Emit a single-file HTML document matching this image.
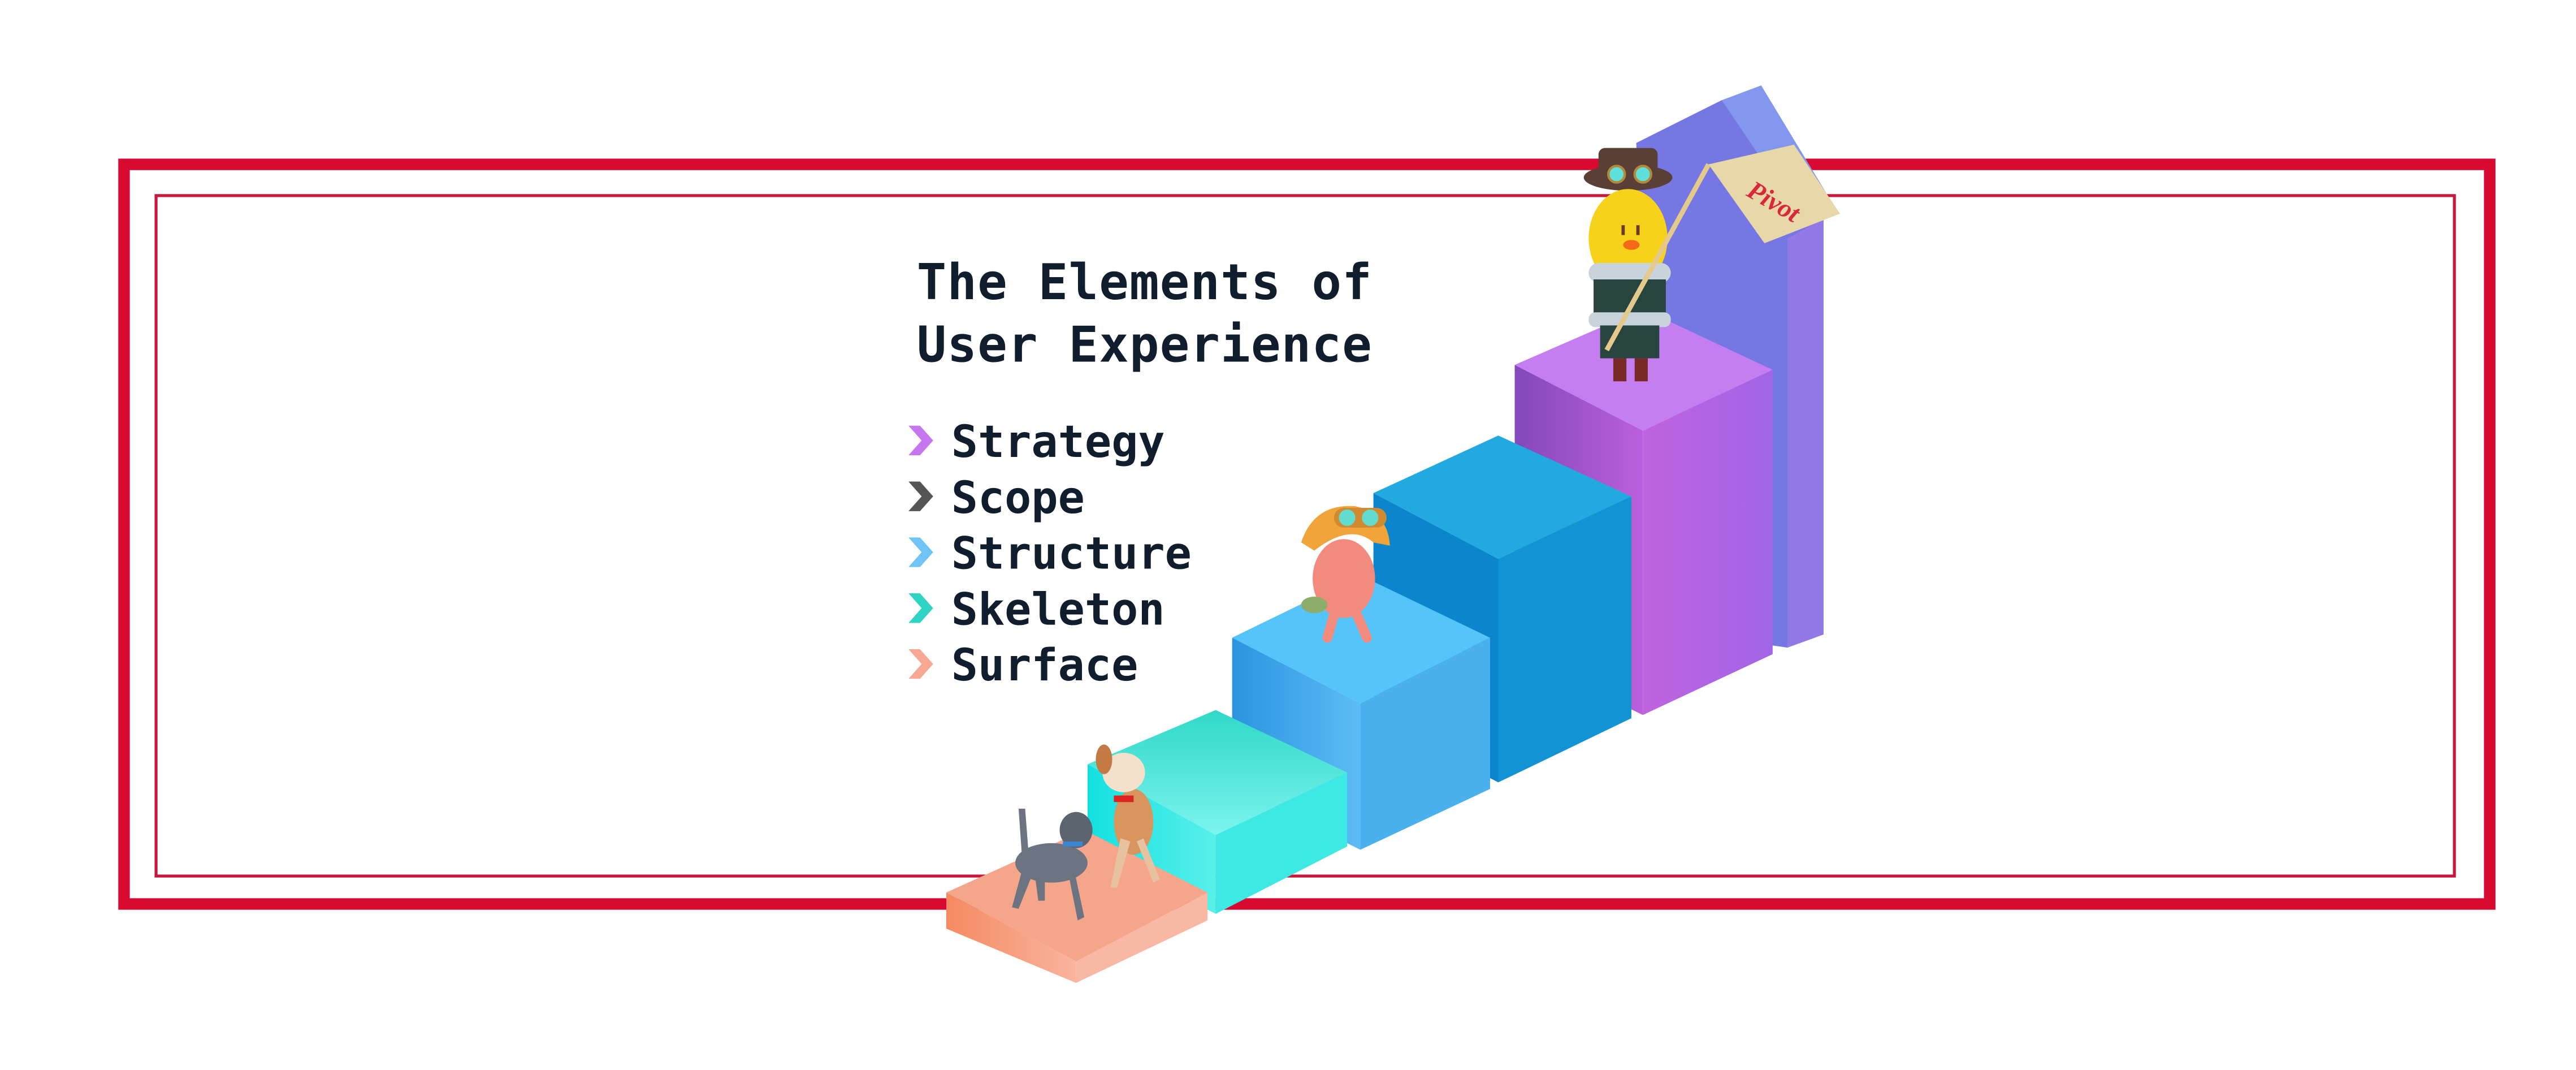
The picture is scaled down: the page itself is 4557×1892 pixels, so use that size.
<!DOCTYPE html>
<html><head><meta charset="utf-8"><style>
html,body{margin:0;padding:0;background:#fff;}
svg{display:block;}
</style></head><body>
<svg width="4557" height="1892" viewBox="0 0 1568 651" xmlns="http://www.w3.org/2000/svg">
<defs>
<linearGradient id="sal" x1="0" x2="1"><stop offset="0" stop-color="#f58a62"/><stop offset="1" stop-color="#f8b59e"/></linearGradient>
<linearGradient id="cy" x1="0" x2="1"><stop offset="0" stop-color="#14e0e0"/><stop offset="1" stop-color="#58f0ea"/></linearGradient>
<linearGradient id="cyt" x1="0" y1="0" x2="0" y2="1"><stop offset="0" stop-color="#30d8c8"/><stop offset="1" stop-color="#7af4ee"/></linearGradient>
<linearGradient id="bl" x1="0" x2="1"><stop offset="0" stop-color="#2b94e0"/><stop offset="1" stop-color="#5cbcf5"/></linearGradient>
<linearGradient id="pu" x1="0" x2="1"><stop offset="0" stop-color="#8348bc"/><stop offset="1" stop-color="#bb5fdd"/></linearGradient>
<linearGradient id="pu2" x1="0" x2="1"><stop offset="0" stop-color="#c063df"/><stop offset="1" stop-color="#a165e6"/></linearGradient>
</defs>
<!-- frames -->
<rect x="75.5" y="100" width="1440" height="450" fill="none" stroke="#d90a32" stroke-width="7"/>
<rect x="95" y="119" width="1399" height="414" fill="none" stroke="#c8163c" stroke-width="1.8"/>

<!-- arrow -->
<polygon points="996,87 1048,61 1072,52 1118,128 1110,133 1110,386 1088,394 1040,300" fill="#7a6fe0"/>
<polygon points="1048,61 1072,52 1118,128 1100,138" fill="#8298ee"/>
<polygon points="1088,145 1110,133 1110,386 1088,394" fill="#9379e6"/>
<polygon points="996,87 1048,61 1100,138 1088,145 1088,394 1060,390 1000,200" fill="#7577e3"/>

<!-- block 5 purple -->
<polygon points="922,222 1000,188 1079,225 1000,262" fill="#c47ef0"/>
<polygon points="922,222 1000,262 1000,435 922,397" fill="url(#pu)"/>
<polygon points="1000,262 1079,225 1079,398 1000,435" fill="url(#pu2)"/>
<!-- block 4 -->
<polygon points="836,300 912,265 993,302 912,340" fill="#22aae0"/>
<polygon points="836,300 912,340 912,476 836,437" fill="#0b86cc"/>
<polygon points="912,340 993,302 993,437 912,476" fill="#1294d4"/>
<!-- block 3 -->
<polygon points="750,388 828,350 907,388 828,428" fill="#55c4f8"/>
<polygon points="750,388 828,428 828,517 750,478" fill="url(#bl)"/>
<polygon points="828,428 907,388 907,480 828,517" fill="#4ab0ee"/>
<!-- block 2 cyan -->
<polygon points="662,465 740,432 820,470 740,508" fill="url(#cyt)"/>
<polygon points="662,465 740,508 740,556 662,515" fill="url(#cy)"/>
<polygon points="740,508 820,470 820,515 740,556" fill="#3ee8e4"/>
<!-- block 1 salmon -->
<polygon points="576,543 660,505 735,543 655,585" fill="#f5a58a"/>
<polygon points="576,543 655,585 655,598 576,565" fill="url(#sal)"/>
<polygon points="655,585 735,543 735,560 655,598" fill="#f8b8a4"/>

<!-- dogs -->
<g>
<ellipse cx="690" cy="500" rx="12" ry="20" fill="#d8955e"/>
<ellipse cx="684" cy="470" rx="13" ry="12" fill="#f3e1cc"/>
<ellipse cx="672" cy="462" rx="5" ry="9" fill="#c47a45"/>
<rect x="678" y="484" width="12" height="4" fill="#d22"/>
<path d="M682 510 L676 540 L680 540 L688 512Z M696 510 L706 535 L702 537 L692 512Z" fill="#e6c2a0"/>
<ellipse cx="640" cy="525" rx="22" ry="12" fill="#6b7480"/>
<ellipse cx="655" cy="505" rx="10" ry="11" fill="#5c6470"/>
<rect x="647" y="512" width="12" height="3" fill="#3a86d0"/>
<path d="M622 530 L616 552 L620 553 L628 533Z M650 530 L656 560 L660 558 L654 530Z M630 533 L632 548 L636 548 L636 533Z" fill="#6b7480"/>
<path d="M622 520 L620 492 L624 492 L626 518Z" fill="#6b7480"/>
</g>

<!-- pink character -->
<g>
<ellipse cx="818" cy="352" rx="19" ry="24" fill="#f28a7e"/>
<path d="M792 330 Q800 306 825 308 Q845 312 846 332 L836 330 Q822 318 800 335Z" fill="#f0a43a"/>
<rect x="812" y="309" width="32" height="12" rx="6" fill="#d08a30"/>
<circle cx="820" cy="315" r="5" fill="#63dcd0"/><circle cx="834" cy="315" r="5" fill="#63dcd0"/>
<ellipse cx="800" cy="368" rx="8" ry="5" fill="#8cae6a"/>
<path d="M812 374 L808 388 M826 374 L832 388" stroke="#f28a7e" stroke-width="6" stroke-linecap="round"/>
</g>

<!-- top character -->
<g>
<ellipse cx="991" cy="108" rx="27" ry="8" fill="#5a3f36"/>
<rect x="973" y="90" width="36" height="20" rx="4" fill="#5a3f36"/>
<circle cx="984" cy="106" r="5" fill="#5fe0dc" stroke="#b08a3a" stroke-width="1.5"/><circle cx="1000" cy="106" r="5" fill="#5fe0dc" stroke="#b08a3a" stroke-width="1.5"/>
<ellipse cx="991" cy="145" rx="24" ry="30" fill="#f7d21a"/>
<rect x="987" y="137" width="2" height="6" fill="#6a3b2a"/><rect x="996" y="137" width="2" height="6" fill="#6a3b2a"/>
<ellipse cx="993" cy="149" rx="5" ry="3" fill="#f56a1a"/>
<rect x="967" y="160" width="50" height="12" rx="6" fill="#c9d3dc"/>
<rect x="970" y="170" width="44" height="24" fill="#27443f"/>
<rect x="967" y="190" width="50" height="9" rx="4" fill="#c9d3dc"/>
<rect x="974" y="198" width="36" height="20" fill="#27443f"/>
<rect x="982" y="218" width="8" height="14" fill="#7a2a26"/><rect x="995" y="218" width="8" height="14" fill="#7a2a26"/>
<line x1="978" y1="213" x2="1040" y2="100" stroke="#e5c98a" stroke-width="3"/>
<polygon points="1040,100 1092,88 1120,130 1074,148" fill="#e8d7a8"/>
<text x="1080" y="128" font-family="Liberation Serif, serif" font-style="italic" font-weight="bold" font-size="16" fill="#d8283a" transform="rotate(30 1080 122)" text-anchor="middle">Pivot</text>
</g>

<!-- text -->
<g font-family="DejaVu Sans Mono, Liberation Mono, monospace" font-weight="bold" fill="#0f1d2c">
<text x="558" y="182" font-size="30" textLength="277">The Elements of</text>
<text x="558" y="220" font-size="30" textLength="277">User Experience</text>
<g font-size="27">
<text x="579" y="278">Strategy</text>
<text x="579" y="312">Scope</text>
<text x="579" y="346">Structure</text>
<text x="579" y="380">Skeleton</text>
<text x="579" y="414">Surface</text>
</g>
</g>
<g>
<path d="M553 259 L560 259 L568 268 L560 277 L553 277 L561 268Z" fill="#c676ee"/>
<path d="M553 293 L560 293 L568 302 L560 311 L553 311 L561 302Z" fill="#555"/>
<path d="M553 327 L560 327 L568 336 L560 345 L553 345 L561 336Z" fill="#6fc3f5"/>
<path d="M553 361 L560 361 L568 370 L560 379 L553 379 L561 370Z" fill="#2fd4c4"/>
<path d="M553 395 L560 395 L568 404 L560 413 L553 413 L561 404Z" fill="#f6a892"/>
</g>
</svg>
</body></html>
